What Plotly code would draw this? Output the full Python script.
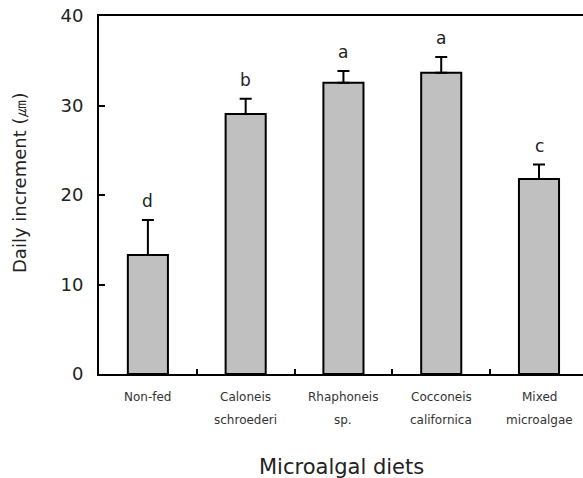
import plotly.graph_objects as go

# Data
cat_line1 = ["Non-fed", "Caloneis", "Rhaphoneis", "Cocconeis", "Mixed"]
cat_line2 = ["", "schroederi", "sp.", "californica", "microalgae"]
means = [13.3, 29.05, 32.55, 33.67, 21.8]
sd = [3.9, 1.7, 1.3, 1.75, 1.6]
letters = ["d", "b", "a", "a", "c"]
yticks = [0, 10, 20, 30, 40]

xpos = list(range(len(cat_line1)))
FONT = "DejaVu Sans"

fig = go.Figure()
fig.add_trace(go.Bar(
    x=xpos, y=means, width=0.41,
    marker=dict(color="#c0c0c0", line=dict(color="black", width=2)),
    error_y=dict(type="data", symmetric=False, array=sd,
                 arrayminus=[0] * len(sd), color="black",
                 thickness=2, width=6),
    showlegend=False,
))

annotations = []
for x, m, s, l in zip(xpos, means, sd, letters):
    annotations.append(dict(x=x, y=m + s, xref="x", yref="y", text=l,
                            showarrow=False, yanchor="bottom", yshift=7,
                            font=dict(family=FONT, size=17, color="#222")))
for x, t1, t2 in zip(xpos, cat_line1, cat_line2):
    annotations.append(dict(x=x, y=0, xref="x", yref="paper", text=t1,
                            showarrow=False, yanchor="middle", yshift=-23,
                            font=dict(family=FONT, size=12, color="#333")))
    if t2:
        annotations.append(dict(x=x, y=0, xref="x", yref="paper", text=t2,
                                showarrow=False, yanchor="middle", yshift=-46,
                                font=dict(family=FONT, size=12, color="#333")))
annotations.append(dict(x=0.5, y=0, xref="paper", yref="paper",
                        text="Microalgal diets", showarrow=False,
                        yanchor="middle", yshift=-93,
                        font=dict(family=FONT, size=21, color="#222")))
annotations.append(dict(x=0, y=0.5335, xref="paper", yref="paper",
                        text="Daily increment (㎛)", showarrow=False,
                        textangle=-90, xanchor="center", yanchor="middle",
                        xshift=-80,
                        font=dict(family=FONT, size=18, color="#222")))

fig.update_layout(
    width=583, height=478,
    margin=dict(l=99, r=0, t=16, b=104),
    plot_bgcolor="white", paper_bgcolor="white",
    annotations=annotations,
    xaxis=dict(range=[-0.5, 4.45], showgrid=False, zeroline=False,
               automargin=False,
               showline=True, linecolor="black", linewidth=2, mirror=True,
               showticklabels=False, tickvals=xpos, ticks="inside", ticklen=0,
               minor=dict(tickvals=[0.5, 1.5, 2.5, 3.5], ticks="inside",
                          ticklen=5, tickwidth=1.5, tickcolor="black")),
    yaxis=dict(range=[0, 40], tickvals=yticks, showgrid=False, zeroline=False,
               automargin=False, ticklabeloverflow="allow",
               showline=True, linecolor="black", linewidth=2,
               ticks="inside", ticklen=6, tickwidth=1.5, tickcolor="black",
               ticklabelstandoff=10,
               tickfont=dict(family=FONT, size=18, color="#222")),
)

fig.write_html("out.html", config={"displayModeBar": False},
               post_script="document.body.style.margin='0';document.body.style.overflow='hidden';")
